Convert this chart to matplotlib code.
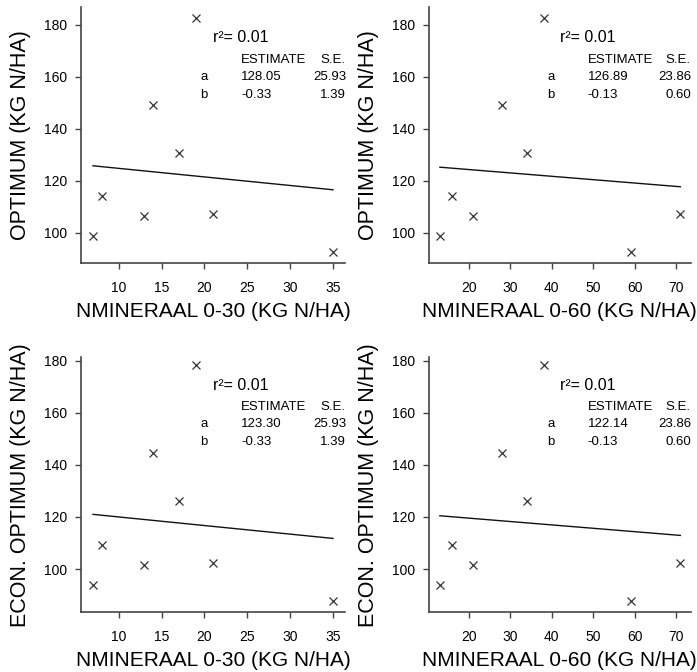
import matplotlib
matplotlib.use("Agg")
import matplotlib.pyplot as plt
import numpy as np

plt.rcParams['font.family'] = ['Liberation Sans', 'DejaVu Sans']

# ---- data ----
nmin_0_30 = [7, 8, 13, 14, 17, 19, 21, 35]
nmin_0_60 = [13, 16, 21, 28, 34, 38, 71, 59]
optimum = [98.7, 114.2, 106.3, 149.0, 130.7, 182.6, 107.2, 92.4]
econ_optimum = [93.7, 109.4, 101.7, 144.5, 126.0, 178.3, 102.5, 87.7]

r2_values = ["0.01", "0.01", "0.01", "0.01"]
coef_a = [128.05, 126.89, 123.30, 122.14]
coef_b = [-0.33, -0.13, -0.33, -0.13]
se_a = [25.93, 23.86, 25.93, 23.86]
se_b = [1.39, 0.60, 1.39, 0.60]

x_labels = ["NMINERAAL 0-30 (KG N/HA)", "NMINERAAL 0-60 (KG N/HA)"]
y_labels = ["OPTIMUM (KG N/HA)", "ECON. OPTIMUM (KG N/HA)"]
x_ticks = [[10, 15, 20, 25, 30, 35], [20, 30, 40, 50, 60, 70]]
y_ticks = [100, 120, 140, 160, 180]

W, H = 697, 672
fig = plt.figure(figsize=(W / 100, H / 100), dpi=100)

# axes boxes in pixels (left, right, top, bottom)
boxes = [
    (81, 345, 7.3, 262.7),
    (428.7, 690.7, 7.3, 262.7),
    (81, 345, 357.3, 612),
    (428.7, 690.7, 357.3, 612),
]
xlims = [(5.6, 36.4), (10.3, 73.5)]
ylims = [(88.4, 186.8), (83.5, 181.3)]
xlabel_y = [-0.192, -0.19]

axcol = '#444444'
txtcol = '#000000'
fs_ann = 9.5

for i in range(4):
    row, col = divmod(i, 2)
    l, r, t, b = boxes[i]
    ax = fig.add_axes([l / W, 1 - b / H, (r - l) / W, (b - t) / H])
    xs = np.array(nmin_0_30 if col == 0 else nmin_0_60)
    ys = optimum if row == 0 else econ_optimum
    ax.plot(xs, ys, linestyle='none', marker='x', markersize=6,
            markeredgewidth=0.9, color='#333333')
    xl = np.array([xs.min(), xs.max()])
    ax.plot(xl, coef_a[i] + coef_b[i] * xl, color='#111111', lw=1.0)

    ax.set_xlim(*xlims[col])
    ax.set_ylim(*ylims[row])
    ax.set_xticks(x_ticks[col])
    ax.set_yticks(y_ticks)
    for s in ['top', 'right']:
        ax.spines[s].set_visible(False)
    for s in ['left', 'bottom']:
        ax.spines[s].set_color(axcol)
        ax.spines[s].set_linewidth(1.2)
    ax.tick_params(direction='out', length=4, width=1.0, color=axcol,
                   labelsize=10, labelcolor=txtcol)
    ax.tick_params(axis='x', pad=9)
    ax.tick_params(axis='y', pad=6)

    ax.set_xlabel(x_labels[col], fontsize=15, color=txtcol, va='center')
    ax.xaxis.set_label_coords(0.5, xlabel_y[row])
    ax.set_ylabel(y_labels[row], fontsize=15.5, color=txtcol, va='center')
    ax.yaxis.set_label_coords(-0.231, 0.5)

    tr = ax.transAxes
    dy = 0.0 if row == 0 else 0.01
    ax.text(0.50, 0.88 + dy, "r\u00b2= " + r2_values[i], transform=tr,
            fontsize=11.5, color=txtcol, ha='left', va='center', clip_on=False)
    ax.text(0.606, 0.794 + dy, "ESTIMATE", transform=tr, fontsize=fs_ann,
            color=txtcol, ha='left', va='center', clip_on=False)
    ax.text(1.0, 0.794 + dy, "S.E.", transform=tr, fontsize=fs_ann,
            color=txtcol, ha='right', va='center', clip_on=False)
    ax.text(0.466, 0.727 + dy, "a", transform=tr, fontsize=fs_ann,
            color=txtcol, ha='center', va='center', clip_on=False)
    ax.text(0.466, 0.657 + dy, "b", transform=tr, fontsize=fs_ann,
            color=txtcol, ha='center', va='center', clip_on=False)
    ax.text(0.606, 0.727 + dy, f"{coef_a[i]:.2f}", transform=tr, fontsize=fs_ann,
            color=txtcol, ha='left', va='center', clip_on=False)
    ax.text(0.606, 0.657 + dy, f"{coef_b[i]:.2f}", transform=tr, fontsize=fs_ann,
            color=txtcol, ha='left', va='center', clip_on=False)
    ax.text(1.004, 0.727 + dy, f"{se_a[i]:.2f}", transform=tr, fontsize=fs_ann,
            color=txtcol, ha='right', va='center', clip_on=False)
    ax.text(1.004, 0.657 + dy, f"{se_b[i]:.2f}", transform=tr, fontsize=fs_ann,
            color=txtcol, ha='right', va='center', clip_on=False)

fig.savefig("out.png", dpi=100)
